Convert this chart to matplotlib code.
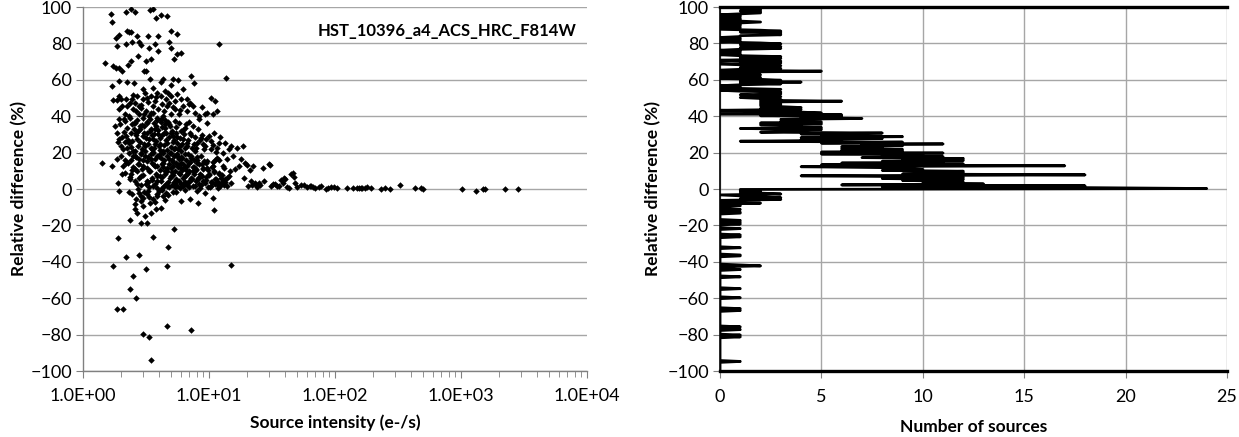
import numpy as np
import matplotlib
matplotlib.use("Agg")
import matplotlib.pyplot as plt
from matplotlib.ticker import FuncFormatter, LogLocator, NullFormatter

plt.rcParams['font.family'] = ['Lato', 'DejaVu Sans']

# ---------------- scatter data (source intensity e-/s, relative difference %) ----------------
top_x = [1.67, 1.70, 2.20, 2.40, 2.59, 3.41, 3.59, 3.81, 4.16, 4.64, 1.82, 1.93, 2.23, 2.32, 2.40,
         2.68, 3.31, 3.95, 4.99, 5.57, 1.86, 2.20, 2.45, 2.78, 2.91, 3.34, 3.73, 4.81, 4.99, 3.95,
         1.50, 1.73, 1.82, 1.93, 2.05, 2.27, 2.40, 2.74, 3.17, 3.47, 3.03, 3.17, 5.26, 5.57, 5.99,
         5.18, 5.69, 12.0, 13.7, 1.70, 1.93, 2.23, 2.55, 3.41, 4.16, 4.32, 4.99, 7.20, 7.57]
top_y = [96.1, 91.8, 97.0, 98.8, 97.3, 98.4, 98.8, 94.2, 95.5, 95.1, 82.7, 84.5, 86.9, 86.5, 86.0,
         83.8, 84.1, 84.1, 86.9, 85.4, 78.6, 79.6, 80.5, 80.8, 79.0, 77.7, 79.6, 80.5, 77.7, 75.9,
         69.5, 67.6, 66.7, 66.7, 64.9, 68.0, 70.4, 73.1, 70.4, 71.7, 64.9, 64.9, 71.3, 74.1, 75.0,
         60.3, 59.9, 79.6, 60.9, 56.6, 59.4, 58.8, 58.5, 60.3, 58.8, 60.3, 57.0, 62.1, 58.5]

upper_x = [1.73, 1.86, 2.00, 2.23, 2.44, 2.68, 2.99, 3.22, 3.47, 3.87, 4.16, 4.54, 4.99, 5.37, 5.99,
           6.69, 7.09, 7.46, 8.76, 10.4, 11.2, 11.6, 1.93, 2.15, 2.49, 2.78, 3.17, 3.59, 3.95, 4.64,
           5.37, 6.22, 7.74, 9.30, 10.8, 2.11, 2.32, 2.78, 3.47, 4.32, 5.78, 2.59, 2.99, 3.73, 4.81,
           2.89, 3.34, 3.87, 4.99, 6.69, 8.33, 9.64, 3.10, 3.59, 4.48, 5.57, 6.22, 1.93, 2.20,
           2.05, 2.35, 2.65, 2.90, 3.30, 3.60, 3.80, 4.20, 4.40, 4.70, 5.20, 5.90, 6.90, 3.05, 2.50]
upper_y = [48.8, 48.8, 49.3, 45.6, 49.3, 51.1, 54.8, 50.2, 51.1, 53.0, 51.1, 49.3, 51.1, 48.4, 49.3,
           49.3, 47.5, 45.6, 45.3, 50.2, 48.4, 42.9, 43.8, 41.1, 43.8, 45.6, 42.9, 45.6, 43.8, 45.6,
           43.8, 45.6, 42.0, 41.1, 41.1, 38.3, 40.1, 41.1, 42.0, 40.1, 41.1, 47.5, 49.3, 48.4, 47.5,
           44.7, 40.1, 39.2, 41.1, 42.9, 40.1, 42.0, 53.0, 55.7, 53.9, 52.1, 54.8, 51.1, 49.7,
           45.5, 47.0, 43.0, 46.3, 47.8, 41.8, 50.5, 46.5, 42.8, 52.5, 45.0, 43.5, 46.6, 41.3, 51.8]

mid_x = [1.79, 1.86, 1.93, 2.00, 2.15, 2.23, 2.40, 2.59, 2.68, 2.82, 2.99, 3.10, 3.22, 3.41, 3.59,
         3.77, 4.01, 4.16, 4.36, 4.64, 4.90, 5.18, 5.37, 5.78, 5.99, 6.22, 6.69, 7.09, 7.46, 8.03,
         8.64, 9.30, 10.0, 11.0, 11.6, 13.4, 15.0, 16.7, 18.6, 9.64, 8.33, 2.08, 2.32, 2.49, 2.89,
         3.52, 4.32, 4.99, 1.93, 2.20, 2.44, 2.74, 3.03, 3.68, 3.95, 4.48, 5.57, 6.45, 7.74, 10.4,
         12.0, 12.9, 14.4,
         2.35, 2.52, 2.63, 2.70, 2.85, 2.95, 3.05, 3.15, 3.28, 3.38, 3.50, 3.64, 3.80, 3.92, 4.05,
         4.25, 4.40, 4.55, 4.75, 4.85, 5.05, 5.30, 5.50, 5.70, 5.90, 6.10, 6.35, 6.60, 6.85, 7.30,
         7.80, 8.20, 8.90, 9.50, 10.8, 12.2, 2.12, 2.28, 2.42, 2.58, 2.75, 3.00, 3.12, 3.45, 3.70,
         4.10, 4.50, 4.95, 5.40, 6.00, 7.00, 1.98, 1.88, 2.05, 3.25, 3.58,
         2.25, 2.45, 2.65, 2.85, 3.05, 3.25, 3.45, 3.65, 3.85, 4.05, 4.25, 4.45, 4.65, 4.85, 5.15,
         5.45, 5.85, 6.25, 6.75, 7.25, 7.85, 8.45, 9.15, 10.3, 11.4, 2.15, 2.55, 2.95, 3.35, 3.75,
         4.15, 4.55, 4.95, 5.25, 5.60, 6.40, 7.60, 8.80]
mid_y = [34.6, 31.0, 27.3, 23.6, 37.4, 33.7, 31.0, 36.5, 27.3, 32.8, 29.1, 23.6, 36.5, 31.9, 27.3,
         34.6, 23.6, 38.3, 31.0, 25.5, 34.6, 29.1, 22.7, 36.5, 31.9, 27.3, 23.6, 31.0, 34.6, 25.5,
         28.2, 23.6, 29.1, 31.0, 22.7, 25.5, 23.6, 22.7, 23.6, 36.5, 38.3, 21.8, 25.5, 20.9, 20.0,
         21.8, 20.9, 20.0, 38.3, 29.1, 35.6, 23.6, 34.6, 22.7, 30.1, 35.6, 25.5, 33.7, 20.9, 21.8,
         25.5, 20.0, 21.8,
         39.0, 33.0, 29.8, 37.8, 26.0, 35.0, 31.0, 27.8, 24.5, 38.5, 29.5, 36.0, 26.5, 32.5, 28.0,
         34.0, 24.0, 30.5, 37.0, 28.5, 32.0, 26.8, 33.8, 22.0, 28.0, 24.5, 30.0, 35.5, 27.0, 22.5,
         28.5, 33.0, 25.0, 27.5, 24.0, 28.8, 31.5, 27.0, 23.0, 21.0, 32.0, 38.8, 21.0, 33.0, 24.8,
         21.5, 38.0, 23.0, 37.5, 21.0, 37.0, 35.5, 26.0, 28.5, 30.5, 20.5,
         22.5, 26.5, 30.8, 34.5, 25.0, 36.8, 22.8, 30.3, 38.0, 24.8, 29.8, 33.5, 21.6, 35.8, 25.9,
         30.9, 23.8, 32.6, 25.2, 29.6, 22.4, 26.8, 21.8, 26.3, 20.6, 25.8, 36.0, 22.0, 27.5, 33.2,
         36.8, 27.0, 31.0, 22.0, 28.5, 22.8, 24.6, 29.9]

low_x = [1.42, 1.69, 1.86, 1.91, 2.00, 2.08, 2.15, 2.27, 2.37, 2.49, 2.59, 2.68, 2.78, 2.89, 2.99,
         3.10, 3.22, 3.34, 3.47, 3.59, 3.73, 3.87, 4.01, 4.16, 4.32, 4.48, 4.64, 4.81, 4.99, 5.18,
         5.37, 5.57, 5.78, 5.99, 6.22, 6.45, 6.69, 6.94, 7.20, 7.46, 7.74, 8.03, 8.33, 8.64, 8.96,
         9.30, 9.64, 10.0, 10.4, 10.8, 11.2, 11.6, 12.0, 12.5, 12.9, 13.4, 13.9, 14.4, 15.0, 15.5,
         16.1, 17.3, 17.9, 18.9, 19.3,
         2.9, 3.7, 4.4, 5.1, 5.6, 6.0, 6.7, 7.4, 8.6, 10.1, 11.1, 12.2, 13.1, 14.0,
         2.6, 3.3, 3.9, 4.7, 5.3, 5.8, 6.4, 7.0, 7.9, 9.0, 10.6, 11.7, 12.8,
         2.8, 3.5, 4.2, 4.9, 5.5, 6.2, 7.2, 8.2, 9.4, 11.4, 12.4, 13.8,
         2.4, 3.0, 3.8, 4.5, 5.2, 5.9, 6.6, 7.6, 8.5, 10.0, 11.9,
         2.7, 3.4, 4.1, 4.6, 5.4, 6.1, 6.9, 7.9, 9.8, 11.0,
         2.5, 3.2, 3.9, 4.3, 5.0, 5.7, 6.4, 7.4, 8.9, 10.5,
         2.2, 2.8, 3.5, 4.2, 4.8, 5.5, 6.2, 7.0, 8.4, 9.5,
         2.4, 3.0, 3.7, 4.4, 5.1, 5.8, 6.6, 7.6, 9.2, 11.2,
         2.6, 3.3, 3.9, 4.6, 5.3, 6.0, 7.2, 8.0,
         2.3, 2.9, 3.6, 4.1, 4.9, 5.6, 6.8,
         3.15, 3.55, 4.05, 4.55, 5.05, 5.45, 5.95, 6.35, 6.85, 7.35, 7.85, 8.35, 8.85, 9.45, 10.3,
         10.9, 11.5, 12.6, 13.5, 14.6, 2.95, 3.25, 3.65, 4.15, 4.65, 5.15, 5.65, 6.15, 6.55, 7.05,
         7.55, 8.05, 8.75, 9.65, 10.7, 12.0, 13.2, 3.45, 4.35, 5.45, 6.45, 2.75, 2.65, 2.45, 2.35,
         2.15, 2.05, 3.85, 4.85, 5.85, 6.95, 8.45, 9.85, 11.8, 3.35, 4.25, 5.35]
low_y = [14.5, 12.6, 16.7, 3.5, 18.1, 12.6, 9.0, 14.5, 5.3, 18.1, 10.8, 2.6, 16.3, 7.1, 12.6,
         18.1, 4.4, 9.9, 16.3, 1.6, 12.6, 7.1, 18.1, 4.4, 14.5, 9.9, 1.6, 16.3, 7.1, 12.6,
         3.5, 18.1, 9.0, 14.5, 1.6, 7.1, 12.6, 4.4, 17.2, 9.9, 1.6, 14.5, 6.2, 18.1, 10.8,
         3.5, 15.4, 8.1, 1.6, 12.6, 5.3, 17.2, 9.0, 2.6, 12.6, 5.3, 16.3, 7.1, 3.5, 18.1,
         10.8, 12.6, 16.3, 6.2, 14.5,
         2.0, 2.5, 1.7, 2.3, 1.4, 2.8, 2.1, 1.9, 2.4, 1.2, 2.6, 1.8, 2.2, 1.5,
         4.2, 3.8, 4.5, 4.0, 3.6, 4.4, 4.1, 3.9, 4.6, 4.3, 3.7, 4.0, 4.4,
         6.1, 5.8, 6.4, 6.0, 5.7, 6.3, 5.9, 6.2, 6.5, 5.6, 6.0, 6.3,
         8.2, 7.8, 8.4, 8.0, 7.7, 8.3, 7.9, 8.1, 8.5, 7.6, 8.2,
         10.1, 9.8, 10.4, 10.0, 9.7, 10.3, 9.9, 10.2, 10.5, 9.8,
         12.2, 11.8, 12.4, 12.0, 11.7, 12.3, 11.9, 12.1, 11.6, 12.2,
         14.1, 13.8, 14.3, 14.0, 13.7, 14.2, 13.9, 14.4, 13.6, 14.1,
         16.2, 15.8, 16.4, 16.0, 15.7, 16.3, 15.9, 16.1, 15.6, 16.2,
         18.0, 17.7, 18.3, 17.9, 18.2, 17.8, 18.4, 17.6,
         19.6, 19.3, 19.8, 19.4, 19.7, 19.5, 19.2,
         3.0, 5.2, 7.3, 2.6, 9.5, 4.9, 11.3, 3.2, 8.7, 5.6, 10.9, 2.9, 7.2, 5.0, 3.9,
         9.3, 2.8, 7.6, 4.1, 9.8, 11.0, 15.2, 13.3, 17.0, 11.6, 15.0, 13.1, 16.8, 10.4, 14.6,
         12.3, 16.1, 13.7, 11.3, 14.8, 15.9, 11.8, 19.0, 19.8, 18.6, 19.4, 13.9, 17.4, 10.5, 6.8,
         15.8, 8.5, 0.8, 1.0, 0.6, 0.9, 0.7, 1.1, 0.5, 1.2, 0.4, 0.9]

tail_x = [20.3, 21.5, 22.3, 23.2, 24.9, 26.8, 29.9, 31.0, 33.4, 35.9, 38.7, 40.1, 43.2, 46.4, 48.2,
          53.7, 59.9, 64.5, 69.4, 74.6, 85.1, 93.0, 104, 124, 139, 155, 161, 173, 193, 232,
          274, 329, 431, 499, 1023, 1310, 1495, 1550, 2235, 2843,
          20.0, 21.0, 22.0, 23.0, 24.0, 25.5, 27.5, 30.5, 32.0, 34.5, 37.0, 39.5, 41.5, 44.5, 47.0,
          50.0, 57.0, 63.0, 67.0, 78.0, 88.0, 98.0, 150, 165, 180, 250, 480]
tail_y = [1.6, 4.4, 12.6, 2.6, 3.5, 11.7, 13.6, 1.6, 2.6, 1.6, 3.5, 5.3, 0.7, 9.0, 3.5,
          2.0, 1.3, 1.6, 0.7, 1.3, -0.2, 1.1, 0.7, 0.5, 0.5, 0.4, 0.7, 0.5, 0.5, 0.2,
          0.2, 2.4, 0.5, 0.2, 0.2, -1.3, 0.0, 0.2, 0.2, 0.2,
          13.0, 10.5, 2.0, 3.2, 1.0, 2.4, 4.2, 13.2, 3.0, 1.5, 4.8, 5.8, 1.2, 8.2, 6.5,
          1.0, 2.3, 1.8, 0.9, 1.9, 0.3, 1.2, 0.8, 0.6, 1.0, 0.4, 0.8]

neg_x = [1.93, 2.32, 2.63, 2.74, 2.89, 2.99, 3.22, 3.41, 3.59, 3.77, 4.01, 4.16, 4.32, 4.54, 5.99,
         7.09, 8.21, 10.8, 11.0, 2.59, 2.68, 3.10, 3.47, 2.37, 2.89, 3.22, 5.26, 1.91, 3.59, 2.18,
         2.78, 4.74, 1.73, 4.64, 15.0, 3.17, 2.49, 2.37, 2.63, 1.87, 2.08, 4.64, 7.20, 2.99, 3.34,
         3.47, 2.45, 3.05, 3.35, 3.85, 4.45, 5.2, 6.5, 8.0, 9.3, 3.7, 2.9,
         2.8, 3.3, 3.9, 4.2, 4.7, 5.5, 3.0, 2.6]
neg_y = [-1.1, -1.6, -5.7, -0.2, -3.8, -9.3, -2.9, -7.5, -5.7, -11.2, -1.1, -10.3, -3.8, -2.0, -6.6,
         -5.7, -7.9, -4.8, -11.5, -11.2, -13.0, -14.8, -13.0, -17.0, -18.5, -18.9, -21.8, -26.8, -26.2, -37.2,
         -36.5, -31.9, -42.3, -42.3, -41.8, -44.2, -47.8, -54.8, -59.8, -66.2, -66.2, -75.3, -77.2, -79.9, -81.4,
         -94.0, -3.0, -1.8, -4.5, -2.5, -6.0, -1.5, -0.8, -1.2, -2.3, -7.0, -6.5,
         -2.2, -1.0, -4.0, -0.5, -3.3, -1.9, -5.0, -8.0]

# ---------------- histogram data (0.5 % bins) ----------------
bin_width = 0.5
neg_bins = [-94.75, -81.25, -80.25, -77.25, -75.75, -66.75, -65.75, -59.75, -54.75, -48.25,
            -44.25, -42.25, -41.75, -36.75, -36.25, -32.25, -26.25, -25.25, -21.75, -19.25,
            -18.25, -17.25, -13.25, -12.75, -11.25, -9.25, -8.75, -7.75, -6.75, -5.75,
            -5.25, -4.75, -4.25, -3.75, -2.75, -2.25, -1.75, -1.25, -0.75, -0.25]
neg_counts = [1, 1, 1, 1, 1, 1, 1, 1, 1, 1,
              1, 2, 1, 1, 1, 1, 1, 1, 1, 1,
              1, 1, 1, 1, 1, 1, 1, 2, 1, 3,
              1, 3, 2, 1, 3, 2, 1, 2, 1, 1]
# counts for bins 0 .. 50 %
pos_counts_lo = [24, 18, 8, 18, 6, 13, 10, 12, 11, 9, 12, 8, 12, 10, 4, 18, 9, 12, 10, 12,
                 8, 10, 9, 8, 4, 17, 5, 12, 6, 11, 8, 12, 9, 12, 7, 11, 8, 10, 5, 11,
                 5, 9, 6, 9, 6, 8, 6, 9, 7, 11, 5, 9, 1, 6, 4, 8, 4, 9, 5, 7,
                 4, 8, 2, 4, 3, 5, 1, 5, 3, 4, 2, 5, 2, 5, 3, 4, 3, 7, 4, 6,
                 2, 6, 0, 5, 4, 3, 0, 4, 2, 4, 3, 2, 3, 2, 3, 2, 6, 2, 3, 2]
# counts for bins 50 .. 100 %
pos_counts_hi = [1, 3, 2, 1, 3, 2, 3, 1, 0, 3, 1, 0, 1, 0, 1, 3, 1, 4, 1, 3,
                 2, 0, 2, 1, 0, 2, 1, 0, 1, 5, 0, 1, 3, 1, 2, 3, 1, 0, 3, 1,
                 3, 0, 2, 3, 1, 3, 1, 0, 1, 0, 1, 1, 0, 1, 3, 1, 3, 2, 1, 3,
                 2, 0, 1, 0, 1, 1, 0, 1, 1, 3, 2, 3, 1, 3, 2, 0, 0, 1, 0, 1,
                 1, 0, 1, 2, 1, 0, 1, 1, 0, 1, 1, 0, 1, 2, 2, 1, 2, 2, 1, 2]

xticks_left = [1e0, 1e1, 1e2, 1e3, 1e4]
yticks = [-100, -80, -60, -40, -20, 0, 20, 40, 60, 80, 100]
xticks_right = [0, 5, 10, 15, 20, 25]
label_text = "HST_10396_a4_ACS_HRC_F814W"

# ---------------- build arrays ----------------
sx = np.array(top_x + upper_x + mid_x + low_x + tail_x + neg_x)
sy = np.array(top_y + upper_y + mid_y + low_y + tail_y + neg_y)

centers = np.arange(-100 + bin_width / 2, 100, bin_width)
counts = np.zeros_like(centers)
for b, c in zip(neg_bins, neg_counts):
    counts[int(round((b + 100 - bin_width / 2) / bin_width))] = c
pos = np.array(pos_counts_lo + pos_counts_hi, dtype=float)
counts[len(centers) - len(pos):] = pos

# ---------------- figure ----------------
W, H = 1239, 437
fig = plt.figure(figsize=(W / 100, H / 100), dpi=100)
bot = 1 - 371 / H
top = 1 - 7 / H
ax1 = fig.add_axes([83 / W, bot, (587 - 83) / W, top - bot])
ax2 = fig.add_axes([720 / W, bot, (1227 - 720) / W, top - bot])

grid_c = '#a6a6a6'
tick_fs = 13
lab_fs = 12.5

# left scatter
ax1.scatter(sx, sy, s=11, marker='D', color='black', linewidths=0, zorder=3)
ax1.set_xscale('log')
ax1.set_xlim(1, 1e4)
ax1.set_ylim(-100, 100)
ax1.set_xticks(xticks_left)
ax1.xaxis.set_major_formatter(FuncFormatter(lambda v, p: f"{v:.1E}"))
ax1.xaxis.set_minor_locator(LogLocator(base=10, subs=np.arange(2, 10), numticks=20))
ax1.xaxis.set_minor_formatter(NullFormatter())
ax1.set_yticks(yticks)
ax1.yaxis.grid(True, color=grid_c, lw=1.0)
ax1.set_axisbelow(True)
for s in ['top', 'right']:
    ax1.spines[s].set_visible(False)
for s in ['left', 'bottom']:
    ax1.spines[s].set_color('#808080')
    ax1.spines[s].set_linewidth(1.0)
ax1.tick_params(axis='both', which='major', direction='out', length=5, color='#808080',
                labelsize=tick_fs, pad=3)
ax1.tick_params(axis='x', which='major', pad=7)
ax1.tick_params(axis='x', which='minor', direction='out', length=4, color='#808080')
ax1.set_xlabel("Source intensity (e-/s)", fontsize=lab_fs, fontweight='bold', labelpad=8)
ax1.set_ylabel("Relative difference (%)", fontsize=lab_fs, fontweight='bold', labelpad=2)
ax1.text(0.98, 0.955, label_text, transform=ax1.transAxes, ha='right', va='top',
         fontsize=12, fontweight='bold')

# right histogram (line through counts per bin)
ax2.plot(counts, centers, color='black', lw=2.0, solid_joinstyle='round', zorder=3,
         clip_on=True)
ax2.set_xlim(0, 25)
ax2.set_ylim(-100, 100)
ax2.set_xticks(xticks_right)
ax2.set_yticks(yticks)
ax2.grid(True, color=grid_c, lw=1.0)
ax2.set_axisbelow(True)
ax2.spines['right'].set_visible(False)
ax2.spines['left'].set_color('black')
ax2.spines['left'].set_linewidth(1.2)
for s in ['top', 'bottom']:
    ax2.spines[s].set_color('black')
    ax2.spines[s].set_linewidth(2.4)
ax2.tick_params(axis='both', which='major', direction='out', length=5, color='#808080',
                labelsize=tick_fs, pad=3)
ax2.tick_params(axis='x', which='major', pad=8)
ax2.set_xlabel("Number of sources", fontsize=lab_fs, fontweight='bold', labelpad=10)
ax2.set_ylabel("Relative difference (%)", fontsize=lab_fs, fontweight='bold', labelpad=4)

fig.savefig("out.png", dpi=100)
